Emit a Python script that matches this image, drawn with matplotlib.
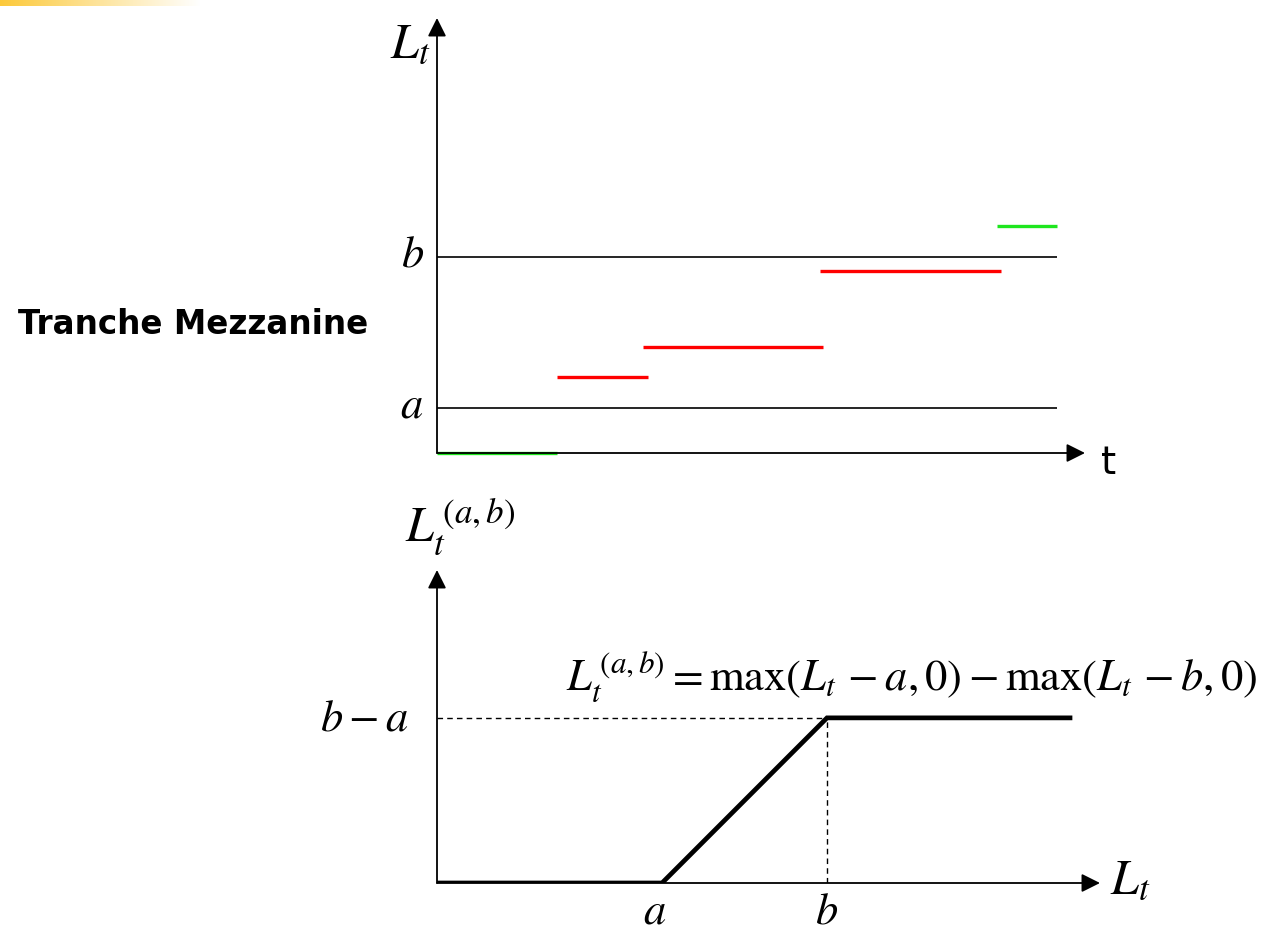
import numpy as np
import matplotlib.pyplot as plt

plt.rcParams['mathtext.fontset'] = 'stix'

# top panel: cumulative loss path L_t, attachment a and detachment b
a_level = 4.5
b_level = 19.6
t_end = 10.33
seg_start = [0.0, 2.0, 3.43, 6.38, 9.33]
seg_end = [2.0, 3.52, 6.43, 9.4, 10.33]
seg_level = [0.0, 7.6, 10.6, 18.2, 22.7]
seg_color = ['#1ee61e', '#ff0000', '#ff0000', '#ff0000', '#1ee61e']

# bottom panel: tranche loss as a function of L_t
attach = 3.0
detach = 5.2
L_grid = np.array([0.0, attach, detach, 8.44])
tranche = np.maximum(L_grid - attach, 0) - np.maximum(L_grid - detach, 0)

W, H = 1266, 933
fig = plt.figure(figsize=(W / 100, H / 100), dpi=100)

arrow = dict(arrowstyle='-|>', color='black', lw=1.3, mutation_scale=28,
             shrinkA=0, shrinkB=0)

# small yellow gradient in the corner (slide decoration)
gax = fig.add_axes([0, 1 - 6 / H, 200 / W, 6 / H])
grad = np.linspace(1, 0, 256)[None, :]
gax.imshow(grad, aspect='auto', cmap=plt.matplotlib.colors.LinearSegmentedColormap.from_list(
    'y', ['white', '#fcc93a']), vmin=0, vmax=1)
gax.axis('off')

# ---- top panel
ax1 = fig.add_axes([437 / W, 1 - 453 / H, (1085 - 437) / W, (453 - 18) / H])
ax1.set_xlim(0, 10.8)
ax1.set_ylim(0, 43.5)
ax1.axis('off')

ax1.annotate('', xy=(10.8, 0), xytext=(0, 0), arrowprops=arrow, annotation_clip=False)
ax1.annotate('', xy=(0, 43.5), xytext=(0, 0), arrowprops=arrow, annotation_clip=False)
for lev in [a_level, b_level]:
    ax1.plot([0, t_end], [lev, lev], color='black', lw=1.2, solid_capstyle='butt')
for x0, x1, lev, c in zip(seg_start, seg_end, seg_level, seg_color):
    ax1.plot([x0, x1], [lev, lev], color=c, lw=2.4, solid_capstyle='butt', clip_on=False)

ax1.text(-0.45, 41.0, r'$L_t$', fontsize=36, ha='center', va='center')
ax1.text(-0.4, b_level + 0.3, r'$b$', fontsize=32, ha='center', va='center')
ax1.text(-0.43, a_level + 0.3, r'$a$', fontsize=32, ha='center', va='center')
ax1.text(11.2, -1.0, 't', fontsize=28, ha='center', va='center')
ax1.text(-6.98, 12.8, 'Tranche Mezzanine', fontsize=23.5, fontweight='bold',
         ha='left', va='center')

# ---- bottom panel
ax2 = fig.add_axes([437 / W, 1 - 883 / H, (1100 - 437) / W, (883 - 570) / H])
ax2.set_xlim(0, 8.84)
ax2.set_ylim(0, 4.17)
ax2.axis('off')

ax2.annotate('', xy=(8.84, 0), xytext=(0, 0), arrowprops=arrow, annotation_clip=False)
ax2.annotate('', xy=(0, 4.17), xytext=(0, 0), arrowprops=arrow, annotation_clip=False)
cap = detach - attach
ax2.plot([0, detach], [cap, cap], color='black', lw=1, dashes=(4, 3))
ax2.plot([detach, detach], [0, cap], color='black', lw=1, dashes=(4, 3))
ax2.plot(L_grid, tranche, color='black', lw=3.4, solid_joinstyle='miter')

ax2.text(-0.43, 4.75, r'$L_t^{\,(a,b)}$', fontsize=36, ha='left', va='center')
ax2.text(1.72, 2.74, r'$L_t^{\,(a,b)} = \max(L_t\, - a, 0) - \max(L_t\, - b, 0)$',
         fontsize=32, ha='left', va='center')
ax2.text(-0.97, cap, r'$b-a$', fontsize=32, ha='center', va='center')
ax2.text(attach - 0.1, -0.37, r'$a$', fontsize=32, ha='center', va='center')
ax2.text(detach, -0.37, r'$b$', fontsize=32, ha='center', va='center')
ax2.text(8.98, 0.05, r'$L_t$', fontsize=36, ha='left', va='center')

fig.savefig('out.png', dpi=100)
